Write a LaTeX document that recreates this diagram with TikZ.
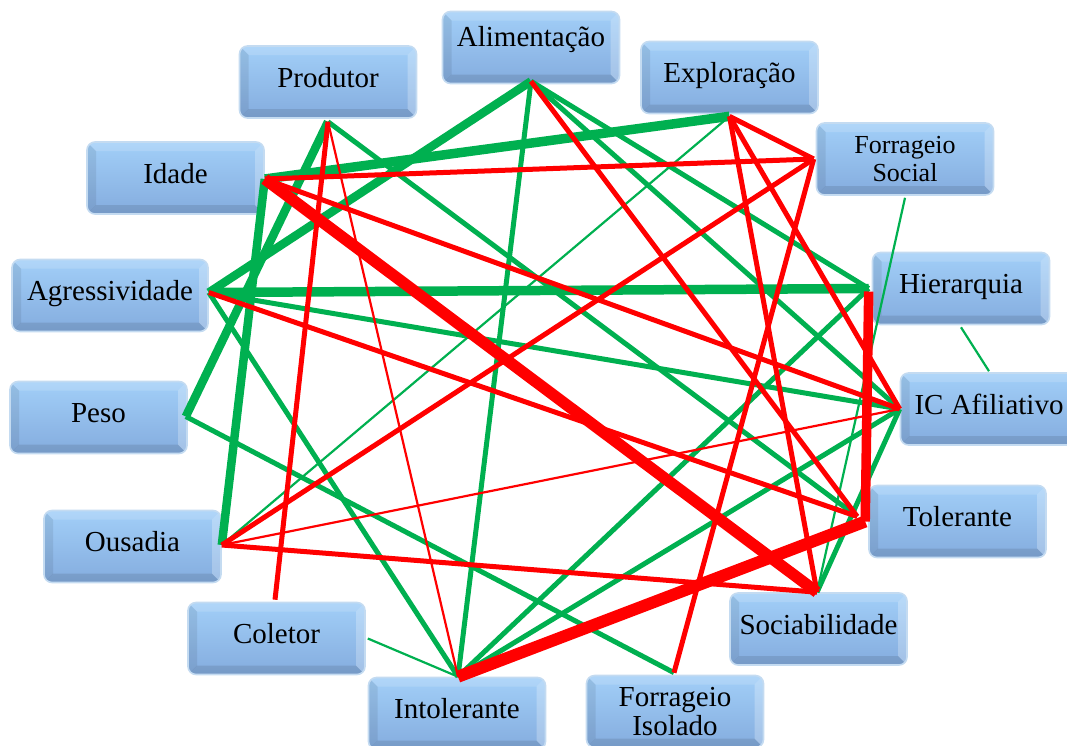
\documentclass[tikz,border=0pt]{standalone}
\usepackage{fontspec}
\setmainfont{Liberation Serif}
\usepackage{xcolor}

\definecolor{linkpos}{HTML}{00B050}
\definecolor{linkneg}{HTML}{FF0000}
\definecolor{facetop}{HTML}{A2CFF8}
\definecolor{facebot}{HTML}{84ACDE}
\definecolor{rim}{HTML}{C4DBF1}

\tikzset{
  trait/.style={rounded corners=8pt, minimum width=177pt, minimum height=72pt, inner sep=0pt,
    top color=facetop, bottom color=facebot, draw=rim, line width=1.6pt, align=center,
    font=\fontsize{29}{29}\selectfont,
    path picture={
      \fill[white, opacity=0.25, sharp corners] (path picture bounding box.north east) -- (path picture bounding box.south east)
        -- ([shift={(-9pt,9pt)}]path picture bounding box.south east) -- ([shift={(-9pt,-9pt)}]path picture bounding box.north east) -- cycle;
      \fill[white, opacity=0.15, sharp corners] (path picture bounding box.north west) -- (path picture bounding box.north east)
        -- ([shift={(-9pt,-9pt)}]path picture bounding box.north east) -- ([shift={(9pt,-9pt)}]path picture bounding box.north west) -- cycle;
      \fill[black, opacity=0.08, sharp corners] (path picture bounding box.south west) -- (path picture bounding box.north west)
        -- ([shift={(9pt,-9pt)}]path picture bounding box.north west) -- ([shift={(9pt,9pt)}]path picture bounding box.south west) -- cycle;
      \fill[black, opacity=0.10, sharp corners] (path picture bounding box.south east) -- (path picture bounding box.south west)
        -- ([shift={(9pt,9pt)}]path picture bounding box.south west) -- ([shift={(-9pt,9pt)}]path picture bounding box.south east) -- cycle;
    }},
  oneline/.style={text height=20pt, text depth=10pt},
  poslink/.style={draw=linkpos},
  neglink/.style={draw=linkneg},
  heavylink/.style={line width=9.5pt},
  midlink/.style={line width=5pt},
  thinlink/.style={line width=2.2pt}
}

\begin{document}
\begin{tikzpicture}[x=1pt, y=-1pt]
    \useasboundingbox (0,0) rectangle (1067,745);

    \node[trait, oneline, text depth=22pt] (alim) at (531,47.5) {Alimentação};
    \node[trait, oneline] (prod) at (328,82) {Produtor};
    \node[trait, oneline] (expl) at (729.5,77.5) {Exploração};
    \node[trait, font=\fontsize{26}{28}\selectfont] (fsoc) at (905,159) {Forrageio\\Social};
    \node[trait, oneline] (idade) at (175.5,178) {Idade};
    \node[trait, oneline, minimum width=196pt] (agre) at (110,295.5) {Agressividade};
    \node[trait, oneline] (hier) at (961,288.5) {Hierarquia};
    \node[trait, oneline] (icaf) at (989,409) {IC Afiliativo};
    \node[trait, oneline] (peso) at (98.5,417.5) {Peso};
    \node[trait, oneline] (ousa) at (132.5,546.5) {Ousadia};
    \node[trait, oneline] (tole) at (957.5,521.5) {Tolerante};
    \node[trait, oneline] (soci) at (818.5,629) {Sociabilidade};
    \node[trait, oneline] (cole) at (276.5,638.5) {Coletor};
    \node[trait, oneline] (into) at (457,713.5) {Intolerante};
    \node[trait, font=\fontsize{29}{29}\selectfont] (fiso) at (675,711.5) {Forrageio\\Isolado};

    \coordinate (Al) at ([yshift=3pt]alim.south);
    \coordinate (Pr) at ([yshift=-3pt]prod.south);
    \coordinate (Ex) at ([yshift=-2pt]expl.south);
    \coordinate (FSw) at ([xshift=-2pt]fsoc.west);
    \coordinate (FSs) at ([yshift=-2pt]fsoc.south);
    \coordinate (Id) at ([yshift=-1pt]idade.east);
    \coordinate (Ag) at ([yshift=3pt]agre.east);
    \coordinate (Hi) at ([xshift=-3pt]hier.west);
    \coordinate (His) at ([yshift=-2pt]hier.south);
    \coordinate (IC) at (icaf.west);
    \coordinate (ICn) at ([yshift=1pt]icaf.north);
    \coordinate (Pe) at ([xshift=-2pt,yshift=1pt]peso.east);
    \coordinate (Ou) at ([yshift=1.5pt]ousa.east);
    \coordinate (To) at ([xshift=-11pt,yshift=5pt]tole.west);
    \coordinate (Tob) at ([xshift=-3pt]tole.west);
    \coordinate (So) at ([xshift=-1.5pt]soci.north);
    \coordinate (Con) at ([xshift=-1.5pt,yshift=2pt]cole.north);
    \coordinate (Coe) at ([xshift=2pt]cole.east);
    \coordinate (In) at ([xshift=1pt]into.north);
    \coordinate (FI) at ([xshift=-1pt,yshift=2pt]fiso.north);

    % positive links
    \draw[poslink, heavylink, line width=8.5pt] (Al) -- (Ag);
    \draw[poslink, heavylink] (Ag) -- (Hi);
    \draw[poslink, heavylink] (Ex) -- (Id);
    \draw[poslink, heavylink, line width=8.5pt] (Pr) -- (Pe);
    \draw[poslink, heavylink, line width=8.5pt] (Id) -- (Ou);
    \draw[poslink, midlink] (Al) -- (In);
    \draw[poslink, midlink] (Al) -- (Hi);
    \draw[poslink, midlink] (Al) -- (IC);
    \draw[poslink, midlink] (Pr) -- (To);
    \draw[poslink, midlink] (Ag) -- (IC);
    \draw[poslink, midlink] (Ag) -- (In);
    \draw[poslink, midlink] (Hi) -- (In);
    \draw[poslink, midlink] (IC) -- (In);
    \draw[poslink, midlink] (IC) -- (So);
    \draw[poslink, midlink] (Pe) -- (FI);
    \draw[poslink, thinlink] (Ex) -- (Ou);
    \draw[poslink, thinlink] (FSs) -- (So);
    \draw[poslink, thinlink] (His) -- (ICn);
    \draw[poslink, thinlink] (Coe) -- (In);

    % negative links
    \draw[neglink, heavylink, line width=11.5pt] (Id) -- (So);
    \draw[neglink, heavylink, line width=12pt] (Tob) -- (In);
    \draw[neglink, heavylink] ([yshift=-3pt]Hi) -- (Tob);
    \draw[neglink, midlink] (Al) -- (To);
    \draw[neglink, midlink] (Pr) -- (Con);
    \draw[neglink, midlink] (Ex) -- (FSw);
    \draw[neglink, midlink] (Ex) -- (So);
    \draw[neglink, midlink] (Ex) -- (IC);
    \draw[neglink, midlink] (FSw) -- (Id);
    \draw[neglink, midlink] (FSw) -- (Ou);
    \draw[neglink, midlink] (FSw) -- (FI);
    \draw[neglink, midlink] (Id) -- (IC);
    \draw[neglink, midlink] (Ag) -- (To);
    \draw[neglink, midlink] (Ou) -- (So);
    \draw[neglink, thinlink] (Pr) -- (In);
    \draw[neglink, thinlink] (Ou) -- (IC);
\end{tikzpicture}
\end{document}
